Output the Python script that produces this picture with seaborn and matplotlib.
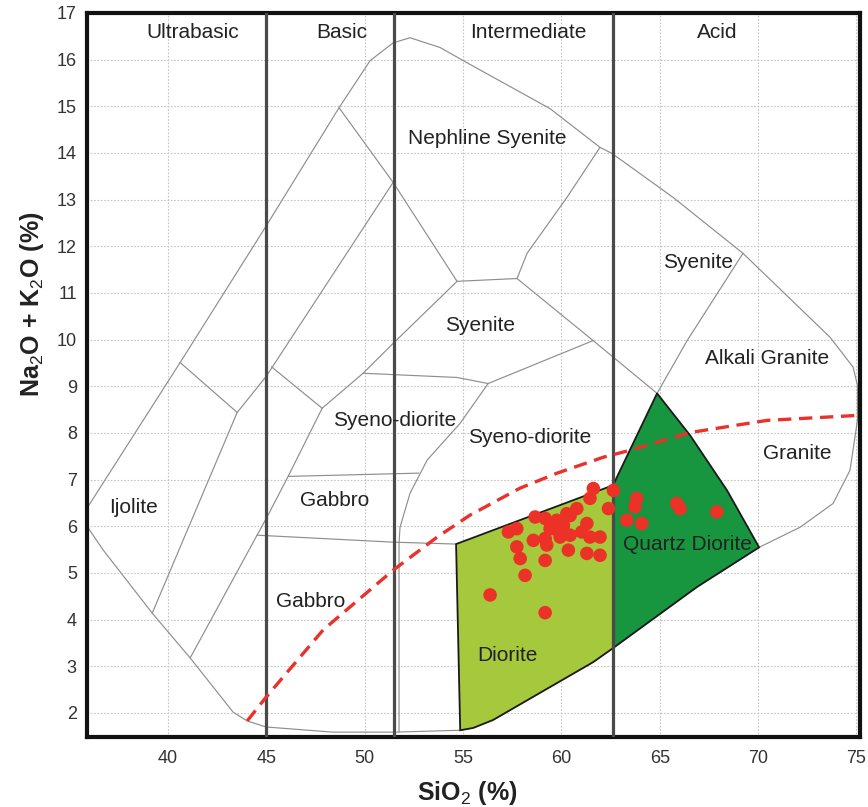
import matplotlib
matplotlib.use("Agg")
import matplotlib.pyplot as plt
import seaborn as sns
import pandas as pd

# ---------------- data ----------------
x_ticks = [40, 45, 50, 55, 60, 65, 70, 75]
y_ticks = list(range(2, 18))

divider_si = [45.0, 51.5, 62.6]
class_names = ["Ultrabasic", "Basic", "Intermediate", "Acid"]
class_x = [41.27, 48.85, 58.30, 67.91]
class_y = [16.58, 16.58, 16.58, 16.58]

outer_x = [35.57, 40.61, 44.93, 48.69, 50.27, 51.44, 52.30, 53.83, 55.00, 59.42, 61.96, 62.57,
           65.67, 69.23, 73.66, 74.83, 75.05, 75.05, 74.67, 73.81, 72.13, 70.05, 66.89, 62.62,
           61.61, 56.52, 55.51, 54.85, 51.49, 48.39, 44.98, 44.02, 43.30, 41.12, 39.19, 36.70, 35.57]
outer_y = [6.19, 9.51, 12.40, 14.97, 15.98, 16.36, 16.47, 16.26, 15.98, 14.95, 14.12, 13.99,
           13.05, 11.85, 10.05, 9.41, 9.02, 8.27, 7.20, 6.49, 5.98, 5.55, 4.70, 3.39,
           3.09, 1.85, 1.68, 1.63, 1.59, 1.59, 1.70, 1.83, 2.02, 3.18, 4.14, 5.49, 6.19]

line_b_x = [40.61, 43.51]
line_b_y = [9.51, 8.44]
line_c_x = [39.19, 43.51, 44.98, 51.44]
line_c_y = [4.14, 8.44, 9.21, 13.37]
line_k_x = [48.69, 51.44, 54.69]
line_k_y = [14.97, 13.37, 11.25]
line_d_x = [45.25, 47.83]
line_d_y = [9.42, 8.53]
line_e_x = [47.83, 49.91, 51.44, 54.69]
line_e_y = [8.53, 9.28, 9.92, 11.25]
line_f_x = [41.12, 44.52, 45.03, 46.10, 47.83]
line_f_y = [3.18, 5.81, 6.20, 7.07, 8.53]
line_g_x = [44.52, 51.49, 54.64]
line_g_y = [5.81, 5.66, 5.62]
line_h_x = [46.10, 52.75]
line_h_y = [7.07, 7.14]
line_i_x = [51.74, 51.74, 51.79, 52.30, 53.17, 54.85, 56.27]
line_i_y = [1.59, 5.64, 5.98, 6.71, 7.42, 8.21, 9.06]
line_o_x = [49.91, 54.69, 56.27]
line_o_y = [9.28, 9.19, 9.06]
line_p_x = [56.27, 61.61]
line_p_y = [9.06, 9.98]
line_j_x = [54.69, 57.74]
line_j_y = [11.25, 11.31]
line_l_x = [57.74, 58.25, 60.28, 61.96]
line_l_y = [11.31, 11.85, 13.05, 14.12]
line_m_x = [57.74, 61.61, 64.86]
line_m_y = [11.31, 9.98, 8.85]
line_n_x = [64.86, 66.39, 69.23]
line_n_y = [8.85, 9.98, 11.85]

diorite_x = [54.64, 62.62, 62.62, 61.61, 56.52, 55.51, 54.85]
diorite_y = [5.62, 6.88, 3.39, 3.09, 1.85, 1.68, 1.63]
qdiorite_x = [62.62, 64.86, 66.54, 68.42, 70.05, 66.89, 62.62]
qdiorite_y = [6.88, 8.85, 7.95, 6.77, 5.55, 4.70, 3.39]

alk_line_x = [44.02, 44.98, 47.88, 51.44, 53.68, 55.35, 57.90, 59.78, 62.12, 63.49,
              66.54, 70.45, 75.18]
alk_line_y = [1.83, 2.34, 3.78, 5.06, 5.77, 6.24, 6.82, 7.14, 7.48, 7.63,
              8.01, 8.27, 8.38]

sample_sio2 = [61.62, 61.45, 62.64, 62.39, 60.78, 60.27, 58.66, 59.17, 59.76, 57.73,
               57.30, 59.42, 60.10, 61.29, 61.03, 60.44, 59.93, 58.57, 59.17, 61.96,
               61.45, 57.73, 59.25, 60.35, 61.29, 61.96, 57.90, 59.17, 58.15, 56.37,
               59.17, 63.83, 63.74, 63.32, 64.08, 65.86, 66.03, 67.90, 60.44, 59.78]
sample_alk = [6.81, 6.60, 6.77, 6.38, 6.38, 6.27, 6.20, 6.17, 6.13, 5.95,
              5.88, 5.95, 6.02, 6.06, 5.88, 5.81, 5.77, 5.70, 5.74, 5.77,
              5.77, 5.56, 5.60, 5.49, 5.42, 5.38, 5.31, 5.27, 4.95, 4.53,
              4.15, 6.60, 6.42, 6.13, 6.06, 6.49, 6.38, 6.31, 6.23, 5.92]

region_names = ["Nephline Syenite", "Syenite", "Syenite", "Alkali Granite", "Granite",
                "Syeno-diorite", "Syeno-diorite", "Gabbro", "Gabbro", "Ijolite",
                "Diorite", "Quartz Diorite"]
region_x = [56.22, 55.86, 66.94, 70.45, 71.98, 51.54, 58.40, 48.49, 47.22, 38.22, 57.23, 66.39]
region_y = [14.31, 10.31, 11.65, 9.60, 7.57, 8.27, 7.91, 6.56, 4.38, 6.41, 3.24, 5.60]

# ---------------- style ----------------
sns.set_theme(style="white")
plt.rcParams["font.family"] = ["Liberation Sans", "DejaVu Sans"]
plt.rcParams["mathtext.fontset"] = "custom"
plt.rcParams["mathtext.rm"] = "Liberation Sans"
plt.rcParams["mathtext.it"] = "Liberation Sans"
plt.rcParams["mathtext.bf"] = "Liberation Sans:bold"

fig = plt.figure(figsize=(8.68, 8.07), dpi=100)
ax = fig.add_axes([0.0997, 0.0867, 0.8911, 0.8972])

field_lines = [
    (outer_x, outer_y), (line_b_x, line_b_y), (line_c_x, line_c_y), (line_k_x, line_k_y),
    (line_d_x, line_d_y), (line_e_x, line_e_y), (line_f_x, line_f_y), (line_g_x, line_g_y),
    (line_h_x, line_h_y), (line_i_x, line_i_y), (line_o_x, line_o_y), (line_p_x, line_p_y),
    (line_j_x, line_j_y), (line_l_x, line_l_y), (line_m_x, line_m_y), (line_n_x, line_n_y),
]

# filled fields
ax.fill(diorite_x, diorite_y, facecolor="#a6c83c", edgecolor="#1a1a1a", lw=1.3, zorder=2)
ax.fill(qdiorite_x, qdiorite_y, facecolor="#17953f", edgecolor="#1a1a1a", lw=1.3, zorder=2)

for xs, ys in field_lines:
    df = pd.DataFrame({"x": xs, "y": ys})
    sns.lineplot(data=df, x="x", y="y", sort=False, estimator=None, ax=ax,
                 color="#8e8e8e", lw=0.85, zorder=1.5)

for xv in divider_si:
    ax.axvline(xv, color="#4a4a4a", lw=2.3, zorder=3)

alk_df = pd.DataFrame({"x": alk_line_x, "y": alk_line_y})
sns.lineplot(data=alk_df, x="x", y="y", sort=False, estimator=None, ax=ax,
             color="#e8322b", lw=2.4, linestyle=(0, (4, 2.3)), zorder=4)

pts = pd.DataFrame({"SiO2": sample_sio2, "Alk": sample_alk})
sns.scatterplot(data=pts, x="SiO2", y="Alk", ax=ax, color="#ec3126", s=95,
                edgecolor="none", linewidth=0, zorder=5)

for name, xv, yv in zip(class_names, class_x, class_y):
    ax.text(xv, yv, name, ha="center", va="center", fontsize=15, color="#222222", zorder=6)
for name, xv, yv in zip(region_names, region_x, region_y):
    ax.text(xv, yv, name, ha="center", va="center", fontsize=15, color="#222222", zorder=6)

ax.set_xlim(35.85, 75.18)
ax.set_ylim(1.485, 17)
ax.set_xticks(x_ticks)
ax.set_yticks(y_ticks)
ax.grid(True, color="#c4c4c4", linestyle=(0, (1.5, 1.5)), lw=0.8, zorder=0)
ax.set_axisbelow(True)
ax.tick_params(axis="both", which="major", length=3, width=0.8, color="#aaaaaa",
               labelsize=13, labelcolor="#333333", direction="out")
ax.tick_params(axis="x", pad=6)
ax.tick_params(axis="y", pad=4)

for sp in ax.spines.values():
    sp.set_visible(True)
    sp.set_color("#111111")
    sp.set_linewidth(3.0)

ax.set_xlabel(r"SiO$_2$ (%)", fontsize=18, fontweight="bold", color="#222222")
ax.set_ylabel(r"Na$_2$O + K$_2$O (%)", fontsize=18, fontweight="bold", color="#222222")
ax.xaxis.set_label_coords(0.492, -0.058)
ax.yaxis.set_label_coords(-0.052, 0.597)

fig.savefig("out.png", dpi=100)
